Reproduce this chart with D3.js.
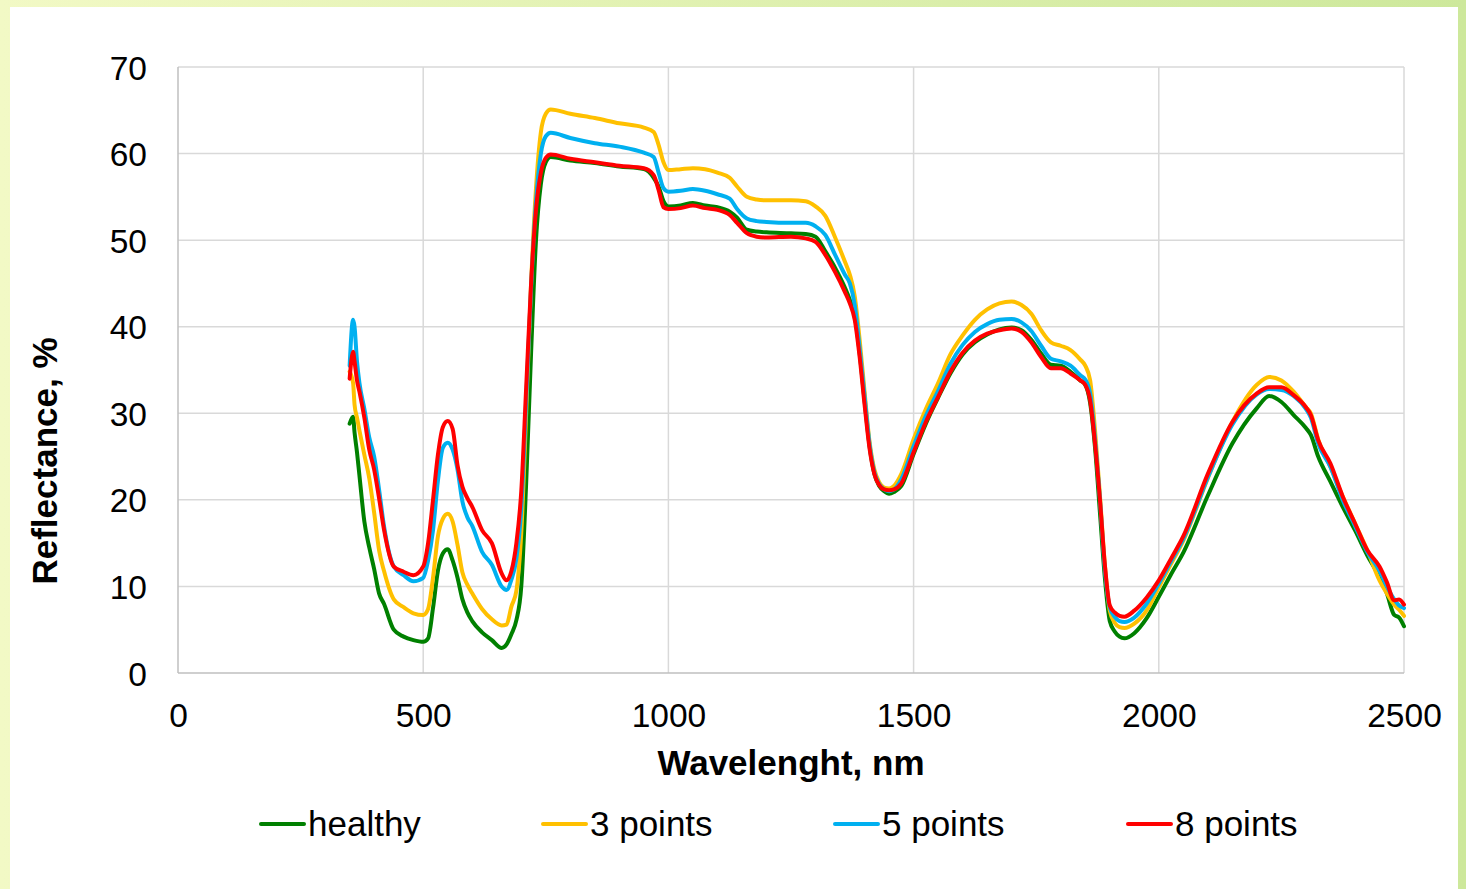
<!DOCTYPE html>
<html>
<head>
<meta charset="utf-8">
<script src="https://cdn.jsdelivr.net/npm/d3@7"></script>
<style>
  html, body { margin: 0; padding: 0; background: #ffffff; }
  svg { display: block; font-family: "Liberation Sans", Arial, sans-serif; }
</style>
</head>
<body>
<div id="chart"></div>
<script>
// wavelengths (nm) shared by all series
var wavelengths = [
  350,357,360,365,370,380,390,400,410,420,
  440,460,480,500,510,520,530,540,550,560,
  570,580,590,600,620,640,660,670,680,690,
  700,710,720,730,740,750,760,800,850,900,
  950,970,980,990,1000,1025,1050,1075,1100,1125,
  1140,1160,1180,1200,1250,1280,1300,1320,1340,1360,
  1370,1380,1390,1400,1410,1420,1430,1440,1450,1460,
  1475,1500,1525,1550,1575,1600,1625,1650,1675,1700,
  1720,1740,1760,1780,1800,1820,1840,1850,1860,1870,
  1880,1890,1900,1910,1920,1930,1950,1975,2000,2025,
  2050,2100,2150,2200,2225,2250,2275,2300,2310,2325,
  2350,2375,2400,2425,2450,2465,2480,2490,2500
];

// reflectance, %
var healthy = [
  28.8,29.6,27.8,25.5,22.8,17.5,14.5,12.0,9.2,8.0,
  5.0,4.2,3.8,3.6,4.0,7.5,11.8,13.8,14.3,13.0,
  11.0,8.5,7.0,6.0,4.7,3.8,2.9,3.3,4.5,6.1,
  10.0,22.0,37.0,50.0,56.5,59.0,59.6,59.2,58.9,58.5,
  58.2,57.2,56.2,54.5,53.9,54.0,54.3,54.0,53.8,53.3,
  52.6,51.2,51.0,50.9,50.8,50.7,50.4,48.7,46.8,44.5,
  43.1,41.3,37.0,31.5,26.3,23.0,21.6,21.0,20.7,20.9,
  21.6,25.3,28.8,31.8,34.6,36.8,38.2,39.1,39.7,39.9,
  39.6,38.5,36.9,35.6,35.5,34.8,33.8,33.3,31.2,26.0,
  18.5,11.0,6.0,4.8,4.2,4.0,4.6,6.3,8.8,11.4,
  13.9,20.5,26.5,30.6,32.0,31.3,29.8,28.3,27.5,25.0,
  22.1,19.2,16.5,13.6,11.1,9.2,6.7,6.4,5.4
];

var points3 = [
  34.8,33.5,31.0,29.5,28.0,25.2,22.5,18.5,14.2,11.8,
  8.5,7.6,6.9,6.7,7.4,11.0,15.8,17.8,18.4,17.5,
  14.8,11.6,10.2,9.2,7.4,6.2,5.5,5.6,7.7,9.5,
  16.2,30.0,45.0,56.0,62.5,64.6,65.1,64.6,64.1,63.5,
  63.0,62.5,61.0,59.0,58.1,58.2,58.3,58.2,57.8,57.2,
  56.2,55.0,54.7,54.6,54.6,54.5,53.9,52.8,50.3,47.5,
  46.0,43.5,38.5,32.5,26.8,23.5,22.0,21.4,21.3,21.6,
  23.0,27.0,30.5,33.5,36.8,39.0,40.8,42.0,42.7,42.9,
  42.5,41.5,39.6,38.2,37.8,37.3,36.2,35.5,33.8,28.0,
  20.5,12.5,7.2,5.8,5.3,5.2,5.7,7.2,9.9,12.6,
  15.3,22.5,29.0,33.3,34.2,33.8,32.5,30.7,30.0,27.0,
  23.8,20.4,17.3,14.2,10.7,9.2,7.9,7.3,6.6
];

var points5 = [
  35.5,40.8,40.0,36.0,33.5,30.5,27.2,25.0,21.2,17.0,
  12.3,11.3,10.6,11.0,13.0,16.5,22.2,26.0,26.6,25.8,
  23.5,19.8,18.0,17.0,14.0,12.5,10.0,9.6,10.8,13.2,
  19.0,31.5,44.5,54.5,60.0,62.0,62.4,61.8,61.2,60.8,
  60.1,59.6,57.8,56.0,55.6,55.7,55.9,55.7,55.3,54.8,
  53.6,52.5,52.2,52.1,52.0,52.0,51.6,50.6,48.3,46.0,
  45.0,42.5,37.5,32.0,26.5,23.2,21.8,21.2,21.0,21.2,
  22.4,26.2,29.7,32.6,35.7,37.9,39.4,40.3,40.8,40.9,
  40.5,39.5,37.8,36.3,36.0,35.5,34.4,33.9,32.3,27.0,
  20.0,12.0,7.6,6.5,6.0,5.9,6.4,8.0,10.3,12.9,
  15.5,22.6,28.7,32.2,32.8,32.7,32.0,30.5,29.5,26.5,
  23.8,20.0,17.0,14.0,11.8,10.0,8.5,7.8,7.5
];

var points8 = [
  34.0,37.1,36.0,33.8,32.5,29.5,25.8,23.5,20.2,16.6,
  12.3,11.7,11.3,12.3,15.0,20.0,25.2,28.4,29.1,28.2,
  24.0,21.5,20.2,19.2,16.5,15.0,11.5,10.7,11.8,15.0,
  21.0,33.0,45.0,53.5,57.8,59.5,59.9,59.4,59.0,58.6,
  58.3,57.5,55.8,53.8,53.6,53.7,54.0,53.7,53.5,52.9,
  52.0,50.8,50.4,50.3,50.4,50.2,49.8,48.3,46.3,44.0,
  42.7,40.8,36.5,31.0,26.0,23.0,21.7,21.2,21.1,21.2,
  21.9,25.5,29.0,31.9,34.8,37.0,38.4,39.2,39.6,39.8,
  39.4,38.2,36.5,35.2,35.2,34.6,33.8,33.3,31.5,26.5,
  20.0,12.5,7.8,7.0,6.6,6.5,7.2,8.7,10.7,13.2,
  15.8,23.0,29.0,32.3,33.0,33.0,32.1,30.7,29.8,26.9,
  24.2,20.4,17.3,14.2,12.3,10.5,8.4,8.5,7.9
];

var seriesNames = ["healthy", "3 points", "5 points", "8 points"];
var seriesColors = ["#008000", "#ffc000", "#00b0f0", "#ff0000"];
var seriesValues = [healthy, points3, points5, points8];

var xTicks = [0, 500, 1000, 1500, 2000, 2500];
var yTicks = [0, 10, 20, 30, 40, 50, 60, 70];

var width = 1466, height = 889;

var svg = d3.select("#chart").append("svg")
  .attr("width", width)
  .attr("height", height);

// frame with the green-yellow gradient
var defs = svg.append("defs");
var grad = defs.append("linearGradient")
  .attr("id", "frameGrad")
  .attr("x1", "0%").attr("y1", "0%")
  .attr("x2", "100%").attr("y2", "0%");
grad.append("stop").attr("offset", "0%").attr("stop-color", "#f2f9c5");
grad.append("stop").attr("offset", "100%").attr("stop-color", "#cde89b");

svg.append("rect")
  .attr("width", width).attr("height", height)
  .attr("fill", "url(#frameGrad)");
svg.append("rect")
  .attr("x", 10).attr("y", 7)
  .attr("width", 1448).attr("height", height - 7)
  .attr("fill", "#ffffff");

var x = d3.scaleLinear().domain([0, 2500]).range([178, 1404]);
var y = d3.scaleLinear().domain([0, 70]).range([673, 67]);

// gridlines
svg.append("g").selectAll("line.h")
  .data(yTicks.slice(1))
  .enter().append("line")
  .attr("x1", x(0)).attr("x2", x(2500))
  .attr("y1", function(d){ return y(d); })
  .attr("y2", function(d){ return y(d); })
  .attr("stroke", "#d9d9d9")
  .attr("stroke-width", 1.5);

svg.append("g").selectAll("line.v")
  .data(xTicks.slice(1))
  .enter().append("line")
  .attr("x1", function(d){ return x(d); })
  .attr("x2", function(d){ return x(d); })
  .attr("y1", y(0)).attr("y2", y(70))
  .attr("stroke", "#d9d9d9")
  .attr("stroke-width", 1.5);

// axis lines
svg.append("line")
  .attr("x1", x(0)).attr("x2", x(2500))
  .attr("y1", y(0)).attr("y2", y(0))
  .attr("stroke", "#bfbfbf").attr("stroke-width", 1.5);
svg.append("line")
  .attr("x1", x(0)).attr("x2", x(0))
  .attr("y1", y(0)).attr("y2", y(70))
  .attr("stroke", "#bfbfbf").attr("stroke-width", 1.5);

// axes (labels only)
var xAxis = svg.append("g")
  .attr("transform", "translate(0," + y(0) + ")")
  .call(d3.axisBottom(x).tickValues(xTicks).tickFormat(d3.format("d")).tickSize(0).tickPadding(0));
xAxis.select(".domain").remove();
xAxis.selectAll("text")
  .attr("y", 54).attr("dy", null)
  .attr("font-size", "33.5px")
  .attr("font-family", "Liberation Sans, Arial, sans-serif")
  .attr("fill", "#000");

var yAxis = svg.append("g")
  .attr("transform", "translate(" + x(0) + ",0)")
  .call(d3.axisLeft(y).tickValues(yTicks).tickFormat(d3.format("d")).tickSize(0).tickPadding(0));
yAxis.select(".domain").remove();
yAxis.selectAll("text")
  .attr("x", -31).attr("dy", "0.36em")
  .attr("font-size", "33.5px")
  .attr("font-family", "Liberation Sans, Arial, sans-serif")
  .attr("fill", "#000");

// axis titles
svg.append("text")
  .attr("x", 791).attr("y", 775)
  .attr("text-anchor", "middle")
  .attr("font-size", "35px")
  .attr("font-weight", "bold")
  .text("Wavelenght, nm");

svg.append("text")
  .attr("transform", "translate(57,461)rotate(-90)")
  .attr("text-anchor", "middle")
  .attr("font-size", "35px")
  .attr("font-weight", "bold")
  .text("Reflectance, %");

// series lines
var line = d3.line()
  .x(function(d){ return x(d[0]); })
  .y(function(d){ return y(d[1]); })
  .curve(d3.curveMonotoneX);

seriesValues.forEach(function(vals, i){
  var pts = wavelengths.map(function(w, j){ return [w, vals[j]]; });
  svg.append("path")
    .datum(pts)
    .attr("fill", "none")
    .attr("stroke", seriesColors[i])
    .attr("stroke-width", 4)
    .attr("stroke-linejoin", "round")
    .attr("stroke-linecap", "round")
    .attr("d", line);
});

// legend (item starts follow the text widths, as in the original)
var legendX = [261, 543, 835, 1128];
var legend = svg.append("g");
seriesNames.forEach(function(name, i){
  var lx = legendX[i];
  legend.append("line")
    .attr("x1", lx).attr("x2", lx + 43)
    .attr("y1", 824).attr("y2", 824)
    .attr("stroke", seriesColors[i])
    .attr("stroke-width", 4)
    .attr("stroke-linecap", "round");
  legend.append("text")
    .attr("x", lx + 47).attr("y", 836)
    .attr("font-size", "35px")
    .attr("fill", "#000")
    .text(name);
});
</script>
</body>
</html>
